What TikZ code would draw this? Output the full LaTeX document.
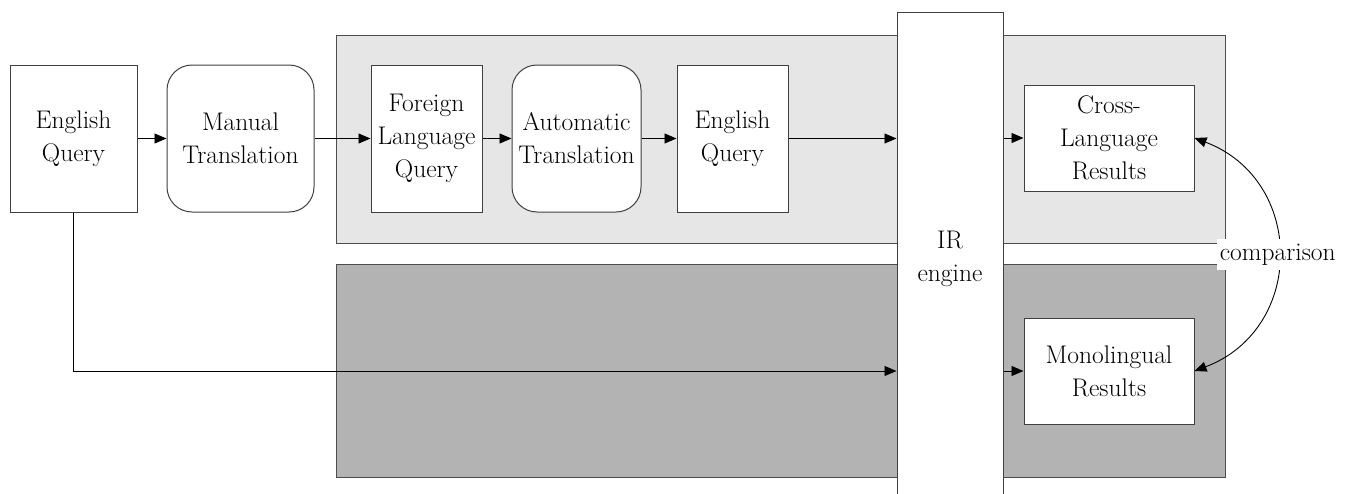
\documentclass[tikz,border=0pt]{standalone}
\usetikzlibrary{arrows.meta}
\definecolor{panellight}{HTML}{E6E6E6}
\definecolor{paneldark}{HTML}{B3B3B3}
\definecolor{edge}{HTML}{404040}
\begin{document}
\begin{tikzpicture}[x=1pt,y=-1pt,
  every node/.style={font=\rmfamily\fontsize{25.5}{33}\selectfont, align=center, inner sep=0pt},
  block/.style={draw=edge, line width=1pt, fill=white, minimum height=147pt},
  roundblock/.style={block, rounded corners=25pt},
  resultbox/.style={draw=edge, line width=1pt, fill=white, minimum width=170pt, minimum height=106pt},
  panel/.style={draw=black!70, line width=1pt},
  flow/.style={line width=0.9pt, -{Triangle[length=12pt,width=10pt]}},
  both/.style={line width=0.9pt, {Triangle[length=12pt,width=10pt]}-{Triangle[length=12pt,width=10pt]}}]
\useasboundingbox (0,0) rectangle (1355,493);
\clip (0,0) rectangle (1355,493);

% background panels
\draw[panel, fill=panellight] (336,35) rectangle (1225,243);
\draw[panel, fill=paneldark] (336,264) rectangle (1225,477);

% retrieval engine column
\node[draw=edge, line width=1pt, fill=white, minimum width=106pt, minimum height=493pt] (ir) at (950,258.5) {IR\\engine};

% query processing chain
\node[block, minimum width=127pt] (eq1) at (73.5,138.5) {English\\Query};
\node[roundblock, minimum width=147pt] (mt) at (240.5,138.5) {Manual\\Translation};
\node[block, minimum width=111pt] (flq) at (426.5,138.5) {Foreign\\Language\\Query};
\node[roundblock, minimum width=129pt] (at) at (576.5,138.5) {Automatic\\Translation};
\node[block, minimum width=111pt] (eq2) at (732.5,138.5) {English\\Query};

% results
\node[resultbox] (clr) at (1109,138) {Cross-\\Language\\Results};
\node[resultbox] (mr) at (1109,371) {Monolingual\\Results};

% connectors
\draw[flow] (eq1) -- (mt);
\draw[flow] (mt) -- (flq);
\draw[flow] (flq) -- (at);
\draw[flow] (at) -- (eq2);
\draw[flow] (eq2) -- (eq2 -| ir.west);
\draw[flow] (clr.west -| ir.east) -- (clr.west);
\draw[flow] (mr.west -| ir.east) -- (mr.west);
\draw[flow] (eq1.south) |- (mr.west -| ir.west);

% comparison between the two result sets
\draw[both] (clr.east) .. controls +(111,42) and +(111,-42) .. (mr.east)
  node[pos=0.5, fill=white, inner xsep=3pt, inner ysep=5pt] (cmp) {comparison};
\end{tikzpicture}
\end{document}
